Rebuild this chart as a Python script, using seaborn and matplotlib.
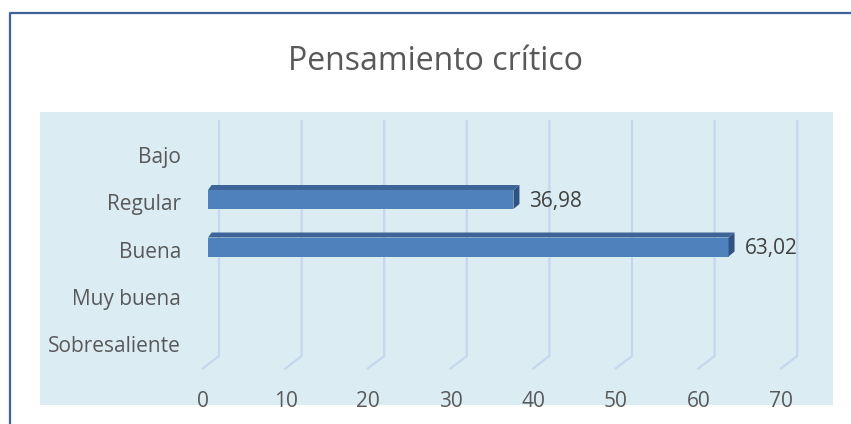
import matplotlib
matplotlib.use("Agg")
import matplotlib.pyplot as plt
import matplotlib.transforms as mtransforms
from matplotlib.patches import Rectangle, Polygon
import seaborn as sns
import pandas as pd

categories = ["Bajo", "Regular", "Buena", "Muy buena", "Sobresaliente"]
values = [0, 36.98, 63.02, 0, 0]
value_labels = ["", "36,98", "63,02", "", ""]
x_ticks = [0, 10, 20, 30, 40, 50, 60, 70]
title = "Pensamiento crítico"

sns.set_theme(style="white")
plt.rcParams["font.family"] = ["Open Sans", "DejaVu Sans"]

W, H = 851, 424
fig = plt.figure(figsize=(W / 100, H / 100), dpi=100)
fig.patch.set_facecolor("white")

def fx(px):
    return px / W

def fy(py):
    return 1 - py / H

# light blue plot area
fig.patches.append(Rectangle((fx(40), fy(405)), fx(833) - fx(40), fy(112) - fy(405),
                             transform=fig.transFigure, facecolor="#dbedf3",
                             edgecolor="none", zorder=-5))
# outer border (top and left visible)
fig.add_artist(plt.Line2D([fx(10), fx(10), fx(851)], [fy(424), fy(13), fy(13)],
                          transform=fig.transFigure, color="#3d6399", lw=1.6))

fig.text(fx(436), fy(62), title, ha="center", va="center", fontsize=23, color="#595959")

# axes placement (pixels)
ax_l, ax_r, ax_t, ax_b = 188, 833, 112, 380
ax = fig.add_axes([fx(ax_l), fy(ax_b), fx(ax_r) - fx(ax_l), fy(ax_t) - fy(ax_b)])
ax.set_facecolor("none")
ax.set_zorder(2)

px_per_x = 8.26
x0_px = 208
px_per_y = 47.5
y0_px = 152

df = pd.DataFrame({"cat": categories, "val": values})
bar_h = 0.4
sns.barplot(data=df, y="cat", x="val", orient="h", color="#4f81bd", saturation=1,
            width=bar_h, ax=ax, zorder=3, edgecolor="none")
ax.set_xlim((ax_l - x0_px) / px_per_x, (ax_r - x0_px) / px_per_x)
ax.set_ylim((ax_b - y0_px) / px_per_y, (ax_t - y0_px) / px_per_y)

# 3D-ish faces of the bars
ddx = 6 / px_per_x
ddy = 5 / px_per_y
for i, v in enumerate(values):
    if v <= 0:
        continue
    top = i - bar_h / 2
    bot = i + bar_h / 2
    ax.add_patch(Polygon([(0, top), (v, top), (v + ddx, top - ddy), (ddx * 0.6, top - ddy)],
                         closed=True, facecolor="#3e6597", edgecolor="none", zorder=4))
    ax.add_patch(Polygon([(v, top), (v + ddx, top - ddy), (v + ddx, bot - ddy), (v, bot)],
                         closed=True, facecolor="#2f5282", edgecolor="none", zorder=4))
    ax.annotate(value_labels[i], xy=(v, i), xytext=(16, -1.5), textcoords="offset pixels",
                ha="left", va="center", fontsize=15, color="#404040", zorder=5)

# gridlines with 3D floor bend
g_top = (120 - y0_px) / px_per_y
g_bot = (356 - y0_px) / px_per_y
g_floor = (369 - y0_px) / px_per_y
back = 11 / px_per_x
front = -6 / px_per_x
for t in x_ticks:
    ax.plot([t + back, t + back, t + front], [g_top, g_bot, g_floor],
            color="#c6d6ee", lw=1.6, zorder=1, solid_capstyle="butt")

ax.set_xticks(x_ticks)
ax.set_xticklabels([str(t) for t in x_ticks])
ax.set_yticks(range(len(categories)))
ax.set_yticklabels(categories)
ax.tick_params(axis="both", length=0, labelsize=15, labelcolor="#595959")
ax.tick_params(axis="x", pad=8)
ax.tick_params(axis="y", pad=5)
off_x = mtransforms.ScaledTranslation(-5 / 100, 0, fig.dpi_scale_trans)
for lab in ax.get_xticklabels():
    lab.set_transform(lab.get_transform() + off_x)
off_y = mtransforms.ScaledTranslation(0, -2.5 / 100, fig.dpi_scale_trans)
for lab in ax.get_yticklabels():
    lab.set_transform(lab.get_transform() + off_y)

ax.set_xlabel("")
ax.set_ylabel("")
for s in ax.spines.values():
    s.set_visible(False)
ax.grid(False)

fig.savefig("out.png", dpi=100)
